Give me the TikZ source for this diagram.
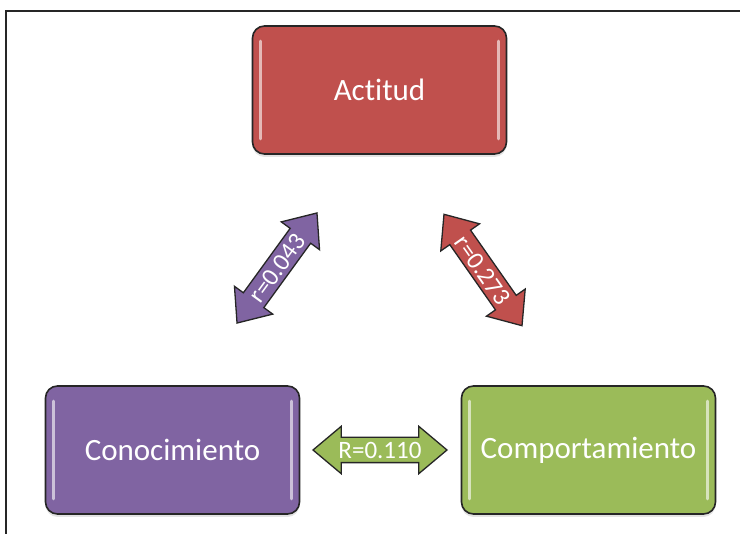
\documentclass[tikz,border=0pt]{standalone}
\usepackage{fontspec}
\setmainfont{Carlito}[Ligatures={NoCommon}]
\usetikzlibrary{shapes.arrows,shadows,calc}
\definecolor{redA}{HTML}{C0504D}
\definecolor{purA}{HTML}{8064A2}
\definecolor{grnA}{HTML}{9BBB59}
\begin{document}
\begin{tikzpicture}[x=1pt,y=-1pt,
  box/.style={draw=black!85, line width=1.6pt, rounded corners=12pt,
    minimum width=254pt, minimum height=128pt, inner sep=0pt, text=white,
    font=\fontsize{31}{36}\selectfont,
    drop shadow={opacity=0.22, shadow xshift=0pt, shadow yshift=-3pt}},
  gloss/.style={line width=3pt, line cap=round, draw=white, opacity=0.6},
  dbl/.style={shape=double arrow, draw=black!85, line width=1.3pt, text=white,
    font=\fontsize{25}{28}\selectfont, double arrow head extend=11pt,
    double arrow tip angle=80, minimum height=136pt, inner xsep=0pt,
    inner ysep=3.5pt, text height=17pt, text depth=0pt},
  frame/.style={draw=black!85, line width=1.6pt}]
\path[use as bounding box] (0,0) rectangle (740,534);
\draw[frame] (740,11) -- (6,11) -- (6,534);

\node[box, fill=redA] (act) at (379.5,90) {Actitud};
\node[box, fill=purA] (con) at (172.5,450) {Conocimiento};
\node[box, fill=grnA] (com) at (588.5,450) {Comportamiento};

\foreach \n in {act,con,com}{
  \draw[gloss] ($(\n.north west)+(9,16)$) -- ($(\n.south west)+(9,-16)$);
  \draw[gloss] ($(\n.north east)+(-9,16)$) -- ($(\n.south east)+(-9,-16)$);
}

\node[dbl, fill=purA, rotate=54] (ac) at (277,268) {r=0.043};
\node[dbl, fill=redA, rotate=-55] (am) at (483,270) {r=0.273};
\node[dbl, fill=grnA, minimum height=134pt] (cm) at (380,450) {R=0.110};
\end{tikzpicture}
\end{document}
